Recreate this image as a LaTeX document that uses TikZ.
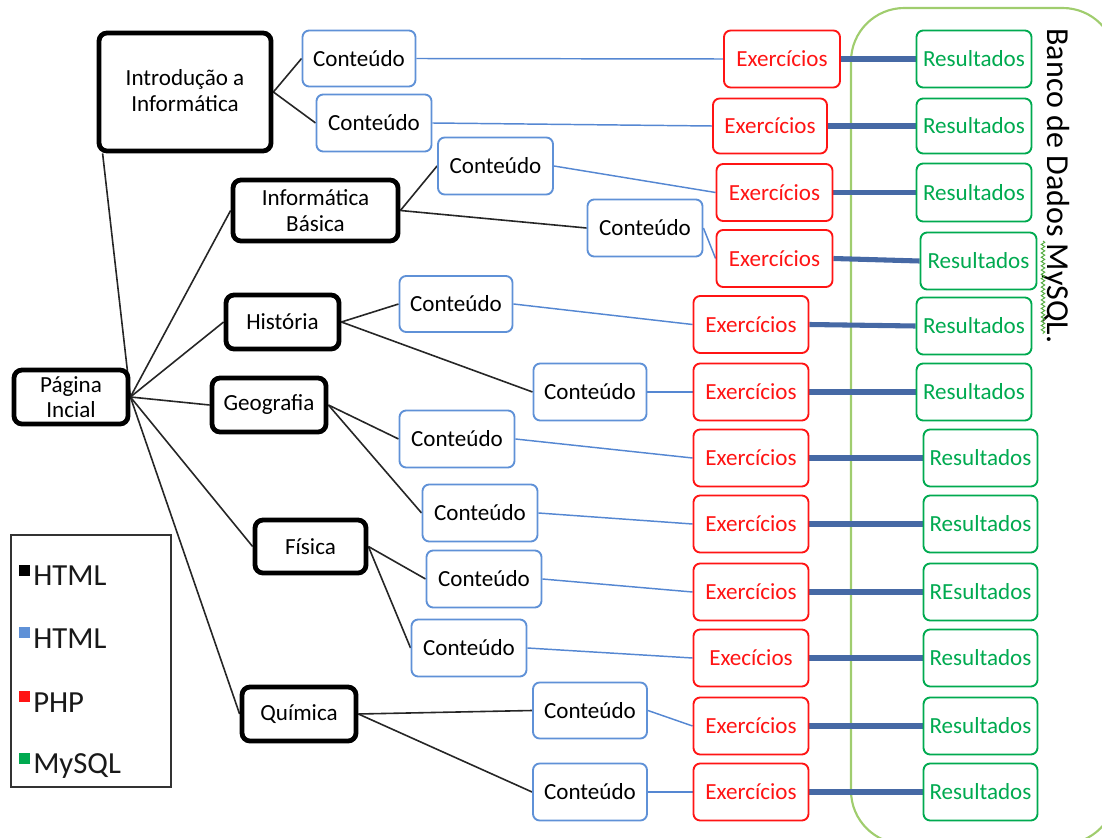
\documentclass[tikz,border=0pt]{standalone}
\usepackage{fontspec}
\setmainfont{Carlito}
\usetikzlibrary{calc,decorations.pathmorphing,backgrounds}

\definecolor{contblue}{RGB}{95,145,215}
\definecolor{linkblue}{RGB}{85,135,210}
\definecolor{dbblue}{RGB}{70,105,165}
\definecolor{exred}{RGB}{255,20,20}
\definecolor{resgreen}{RGB}{0,170,80}
\definecolor{frame}{RGB}{160,205,110}
\definecolor{squiggle}{RGB}{80,170,60}

\begin{document}
\begin{tikzpicture}[x=0.75pt,y=-0.75pt,
  wh/.style 2 args={minimum width=#1*0.75pt, minimum height=#2*0.75pt},
  base/.style={align=center, inner sep=0pt, fill=white,
    font=\fontsize{17.3}{19}\selectfont},
  topic/.style={base, draw=black, line width=3.6pt, rounded corners=6pt},
  cont/.style={base, draw=contblue, line width=1.4pt, rounded corners=5pt},
  exer/.style={base, draw=exred, line width=1.4pt, rounded corners=5pt, text=exred},
  res/.style={base, draw=resgreen, line width=1.4pt, rounded corners=5pt, text=resgreen},
  blk/.style={draw=black!85, line width=1.2pt},
  thin/.style={draw=linkblue, line width=1.1pt},
  thick/.style={draw=dbblue, line width=3.8pt},
  legtxt/.style={inner sep=0pt, font=\fontsize{23}{27}\selectfont, text=black!90},
  legsq/.style={inner sep=0pt, minimum size=11*0.75pt},
]
\useasboundingbox (0,0) rectangle (1102,838);

% --- topic boxes (HTML) ---
\node[topic, wh={172}{118}] (intro) at (185,92) {};
\node[base, fill=none] (introtxt) at (185,90.5) {Introdução a\\Informática};
\node[topic, wh={165}{61}] (ib) at (315.5,210.5) {Informática\\Básica};
\node[topic, wh={113}{54}] (hist) at (282.5,322) {História};
\node[topic, wh={114}{54}] (pag) at (71,397) {Página\\Incial};
\node[topic, wh={114}{54}] (geo) at (269,405) {Geografia};
\node[topic, wh={111}{53}] (fis) at (310.5,546.5) {Física};
\node[topic, wh={114}{54}] (qui) at (299,714) {Química};

% --- content pages ---
\node[cont, wh={113}{56}] (c1) at (359,58.5) {Conteúdo};
\node[cont, wh={115}{57}] (c2) at (374,123) {Conteúdo};
\node[cont, wh={115}{57}] (c3) at (495.5,166) {Conteúdo};
\node[cont, wh={115}{57}] (c4) at (645,228) {Conteúdo};
\node[cont, wh={113}{56}] (c5) at (456,304) {Conteúdo};
\node[cont, wh={113}{57}] (c6) at (590,392) {Conteúdo};
\node[cont, wh={115}{57}] (c7) at (457,439) {Conteúdo};
\node[cont, wh={115}{57}] (c8) at (480,513) {Conteúdo};
\node[cont, wh={115}{57}] (c9) at (484,579) {Conteúdo};
\node[cont, wh={115}{57}] (c10) at (469,648) {Conteúdo};
\node[cont, wh={114}{56}] (c11) at (590,710.5) {Conteúdo};
\node[cont, wh={114}{57}] (c12) at (590,792) {Conteúdo};

% --- exercises (PHP) ---
\node[exer, wh={116}{57}] (e1) at (782,59) {Exercícios};
\node[exer, wh={114}{55}] (e2) at (770,126) {Exercícios};
\node[exer, wh={116}{57}] (e3) at (774.5,192.5) {Exercícios};
\node[exer, wh={116}{57}] (e4) at (774.5,258.5) {Exercícios};
\node[exer, wh={115}{57}] (e5) at (751,324.5) {Exercícios};
\node[exer, wh={115}{57}] (e6) at (751,392) {Exercícios};
\node[exer, wh={115}{57}] (e7) at (751,458) {Exercícios};
\node[exer, wh={115}{57}] (e8) at (751,524) {Exercícios};
\node[exer, wh={115}{57}] (e9) at (751,592) {Exercícios};
\node[exer, wh={115}{57}] (e10) at (751,658) {Execícios};
\node[exer, wh={115}{57}] (e11) at (751,726) {Exercícios};
\node[exer, wh={115}{57}] (e12) at (751,792) {Exercícios};

% --- results (MySQL) ---
\node[res, wh={115}{57}] (r1) at (974,59) {Resultados};
\node[res, wh={115}{55}] (r2) at (974,126) {Resultados};
\node[res, wh={115}{58}] (r3) at (974,192.5) {Resultados};
\node[res, wh={116}{57}] (r4) at (978.5,261) {Resultados};
\node[res, wh={115}{57}] (r5) at (974,326) {Resultados};
\node[res, wh={115}{57}] (r6) at (974,392) {Resultados};
\node[res, wh={114}{57}] (r7) at (980.5,458) {Resultados};
\node[res, wh={114}{57}] (r8) at (980.5,524) {Resultados};
\node[res, wh={114}{57}] (r9) at (980.5,592) {REsultados};
\node[res, wh={114}{57}] (r10) at (980.5,658) {Resultados};
\node[res, wh={114}{57}] (r11) at (980.5,726) {Resultados};
\node[res, wh={114}{57}] (r12) at (980.5,792) {Resultados};

% --- database label ---
\node[rotate=-90, anchor=base, inner sep=0pt, font=\fontsize{24}{28}\selectfont]
  (db) at (1047,186) {Banco de Dados MySQL.};
\draw[squiggle, line width=0.7pt,
  decorate, decoration={snake, amplitude=1.3pt, segment length=3.2pt}]
  (1043,241) -- (1043,334);

% --- legend ---
\node[draw=black!80, line width=1.2pt, inner sep=0pt, wh={160}{252}] (leg) at (91,661) {};
\node[legsq, fill=black] (s1) at (24,570.5) {};
\node[legsq, fill=contblue] (s2) at (24,632.5) {};
\node[legsq, fill=exred] (s3) at (24,696) {};
\node[legsq, fill=resgreen] (s4) at (24,758) {};
\node[legtxt, anchor=base west] (l1) at (33,585) {HTML};
\node[legtxt, anchor=base west] (l2) at (33,648) {HTML};
\node[legtxt, anchor=base west] (l3) at (33,712) {PHP};
\node[legtxt, anchor=base west] (l4) at (33,773) {MySQL};

\begin{pgfonlayer}{background}
  % database container
  \begin{scope}
    \clip (0,0) rectangle (1102,838);
    \draw[frame, line width=1.6pt, rounded corners=40pt] (851,8) rectangle (1116,844);
  \end{scope}

  % home page to topics
  \draw[blk] (pag.east) -- ($(intro.south west)+(6,0)$);
  \foreach \t in {ib,hist,geo,fis,qui} \draw[blk] (pag.east) -- (\t.west);

  % topics to contents
  \foreach \t/\c in {intro/c1,intro/c2,ib/c3,ib/c4,hist/c5,hist/c6,
                     geo/c7,geo/c8,fis/c9,fis/c10,qui/c11,qui/c12}
    \draw[blk] (\t.east) -- (\c.west);

  % contents to exercises, exercises to results
  \foreach \i in {1,...,12} {
    \draw[thin] (c\i.east) -- (e\i.west);
    \draw[thick] (e\i.east) -- (r\i.west);
  }
\end{pgfonlayer}
\end{tikzpicture}
\end{document}
